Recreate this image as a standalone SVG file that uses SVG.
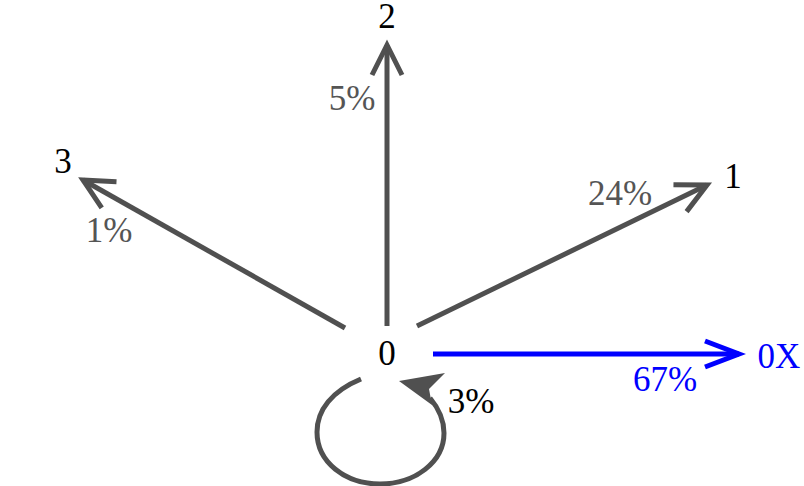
<svg xmlns="http://www.w3.org/2000/svg" width="804" height="486" viewBox="0 0 804 486">
<defs>
<style>
text{font-family:"Liberation Serif","Times New Roman",serif;font-size:35px;text-anchor:middle}
.node{fill:#000}
.lbl{fill:#555}
.blbl{fill:#0000ff}
.edge{fill:none;stroke:#505050;stroke-width:5}
.bedge{fill:none;stroke:#0000ff;stroke-width:5}
</style>
<marker id="ah" markerUnits="userSpaceOnUse" viewBox="-40 -20 50 40" refX="0" refY="0" markerWidth="50" markerHeight="40" orient="auto" overflow="visible">
<path d="M-30 -15 L0 0 L-30 15" fill="none" stroke="#505050" stroke-width="5"/>
</marker>
<marker id="bah" markerUnits="userSpaceOnUse" viewBox="-40 -20 50 40" refX="0" refY="0" markerWidth="50" markerHeight="40" orient="auto" overflow="visible">
<path d="M-34 -13 L0 0 L-34 13" fill="none" stroke="#0000ff" stroke-width="5"/>
</marker>
</defs>
<rect width="804" height="486" fill="#fff"/>
<g id="edges">
<line class="edge" x1="387" y1="326" x2="387" y2="45" marker-end="url(#ah)"/>
<line class="edge" x1="345" y1="328" x2="83" y2="180" marker-end="url(#ah)"/>
<line class="edge" x1="417" y1="326" x2="707" y2="185" marker-end="url(#ah)"/>
<line class="bedge" x1="433" y1="354" x2="739" y2="354" marker-end="url(#bah)"/>
<path class="edge" d="M361 379 C332 391 317 410 317 432 C317 462 345 484 380 484 C415 484 444 462 444 433 C444 420 440 410 430 398"/>
<polygon points="399,381 445,373 429,389 432,405" fill="#505050"/>
<text class="lbl" x="352" y="110">5%</text>
<text class="lbl" x="109" y="242">1%</text>
<text class="lbl" x="620" y="205">24%</text>
<text class="blbl" x="665" y="391">67%</text>
<text class="node" x="471" y="413">3%</text>
</g>
<g id="n0"><text class="node" x="387" y="365">0</text></g>
<g id="n1"><text class="node" x="733" y="188">1</text></g>
<g id="n2"><text class="node" x="387" y="28">2</text></g>
<g id="n3"><text class="node" x="63" y="173">3</text></g>
<g id="n0X"><text class="blbl" x="779" y="368">0X</text></g>
</svg>
